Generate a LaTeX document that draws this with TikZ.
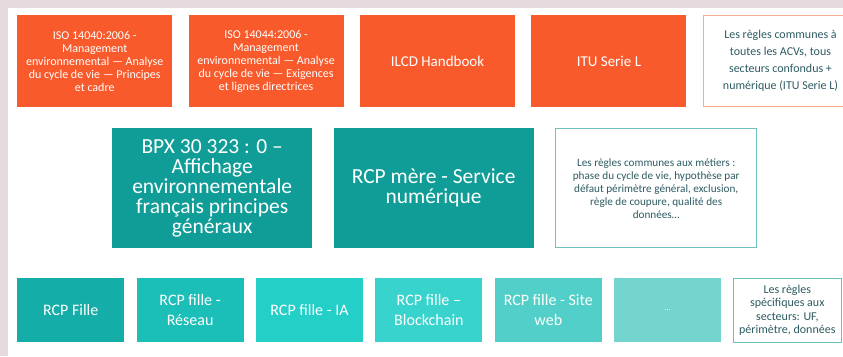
\documentclass[tikz,border=0pt]{standalone}
\usepackage{fontspec}
\setmainfont{Carlito}
\usetikzlibrary{positioning}
\definecolor{pagebg}{HTML}{E6DADE}
\definecolor{normorange}{HTML}{F95A2B}
\definecolor{normframe}{HTML}{F2B090}
\definecolor{rcpteal}{HTML}{109D98}
\definecolor{tealframe}{HTML}{6CC3BE}
\definecolor{notetext}{HTML}{2D5B62}
\definecolor{filleA}{HTML}{15ADA7}
\definecolor{filleB}{HTML}{1CBFB8}
\definecolor{filleC}{HTML}{24CFC8}
\definecolor{filleD}{HTML}{38D3CC}
\definecolor{filleE}{HTML}{52CFC8}
\definecolor{filleF}{HTML}{74D5CF}

\begin{document}
\begin{tikzpicture}[
  x=1pt, y=1pt,
  box/.style={inner sep=0pt, align=center, text=white, anchor=north west},
  normbox/.style={box, fill=normorange, minimum width=155pt, minimum height=92pt,
              font=\fontsize{12}{12.9}\selectfont},
  rcpbox/.style={box, fill=rcpteal, minimum width=200pt, minimum height=120pt,
              font=\fontsize{21.5}{20}\selectfont},
  fillebox/.style={box, minimum width=107pt, minimum height=64pt,
              font=\fontsize{16}{20}\selectfont},
  note/.style={box, fill=white, text=notetext, line width=0.8pt},
  ]
  \clip (0,0) rectangle (843,-356);
  \fill[pagebg] (0,0) rectangle (843,-356);
  \fill[white] (8,-8) rectangle (843,-356);

  % normes communes
  \node[normbox] (iso40) at (17,-15) {ISO 14040:2006 -\\ Management\\ environnemental --- Analyse\\ du cycle de vie --- Principes\\ et cadre};
  \node[normbox, right=16pt of iso40] (iso44) {ISO 14044:2006 -\\ Management\\ environnemental --- Analyse\\ du cycle de vie --- Exigences\\ et lignes directrices};
  \node[normbox, right=16pt of iso44, font=\fontsize{15}{18}\selectfont] (ilcd) {ILCD Handbook};
  \node[normbox, right=16pt of ilcd, font=\fontsize{15}{18}\selectfont] (itu) {ITU Serie L};
  \node[note, draw=normframe, minimum width=154pt, minimum height=91pt,
        font=\fontsize{12}{17}\selectfont, right=16.5pt of itu] (notenorm)
        {Les règles communes à\\ toutes les ACVs, tous\\ secteurs confondus +\\ numérique (ITU Serie L)};

  % RCP mere
  \node[rcpbox] (bpx) at (112,-128) {BPX 30 323 : 0 --\\ Affichage\\ environnementale\\ français principes\\ généraux};
  \node[rcpbox, right=21pt of bpx] (mere) {RCP mère - Service\\ numérique};
  \node[note, draw=tealframe, minimum width=201pt, minimum height=119pt,
        font=\fontsize{11.2}{13}\selectfont, right=21.5pt of mere] (notemere)
        {Les règles communes aux métiers :\\ phase du cycle de vie, hypothèse par\\ défaut périmètre général, exclusion,\\ règle de coupure, qualité des\\ données…};

  % RCP filles
  \node[fillebox, fill=filleA] (fille) at (17,-278) {RCP Fille};
  \node[fillebox, fill=filleB, right=12pt of fille] (reseau) {RCP fille -\\ Réseau};
  \node[fillebox, fill=filleC, right=12pt of reseau] (ia) {RCP fille - IA};
  \node[fillebox, fill=filleD, right=12pt of ia] (blockchain) {RCP fille --\\ Blockchain};
  \node[fillebox, fill=filleE, right=12pt of blockchain] (siteweb) {RCP fille - Site\\ web};
  \node[fillebox, fill=filleF, right=12pt of siteweb, font=\fontsize{8}{9}\selectfont] (autres) {…};
  \node[note, draw=tealframe, minimum width=108pt, minimum height=64pt,
        font=\fontsize{12}{13.3}\selectfont, right=11.5pt of autres] (notefille)
        {Les règles\\ spécifiques aux\\ secteurs: UF,\\ périmètre, données};
\end{tikzpicture}
\end{document}
